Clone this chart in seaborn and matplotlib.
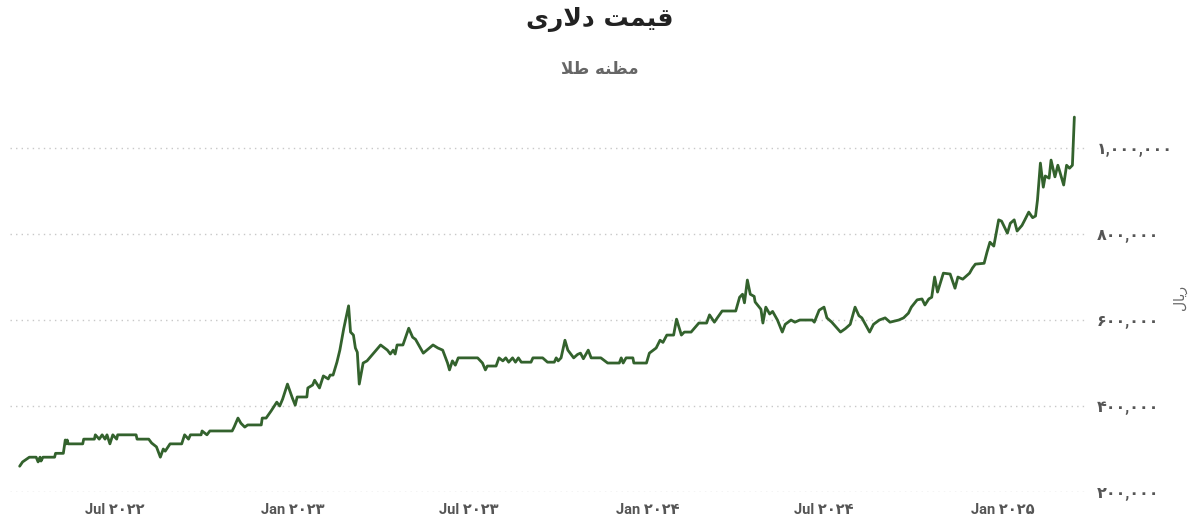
import pandas as pd
import matplotlib
matplotlib.use("Agg")
import matplotlib.pyplot as plt
import matplotlib.dates as mdates
import seaborn as sns

# data (rial)
dates = [
    "2022-03-25", "2022-03-28", "2022-04-04", "2022-04-11", "2022-04-13", "2022-04-15", "2022-04-16", "2022-04-18",
    "2022-04-30", "2022-05-01", "2022-05-09", "2022-05-11", "2022-05-12", "2022-05-13", "2022-05-14", "2022-05-29",
    "2022-05-30", "2022-06-10", "2022-06-11", "2022-06-15", "2022-06-18", "2022-06-21", "2022-06-23", "2022-06-26",
    "2022-06-29", "2022-07-03", "2022-07-04", "2022-07-23", "2022-07-24", "2022-08-05", "2022-08-08", "2022-08-13",
    "2022-08-17", "2022-08-20", "2022-08-22", "2022-08-27", "2022-09-08", "2022-09-11", "2022-09-15", "2022-09-17",
    "2022-09-28", "2022-09-29", "2022-10-04", "2022-10-07", "2022-10-30", "2022-11-01", "2022-11-05", "2022-11-08",
    "2022-11-12", "2022-11-15", "2022-11-29", "2022-11-30", "2022-12-04", "2022-12-09", "2022-12-15", "2022-12-18",
    "2022-12-21", "2022-12-26", "2022-12-31", "2023-01-03", "2023-01-05", "2023-01-15", "2023-01-16", "2023-01-21",
    "2023-01-23", "2023-01-28", "2023-02-01", "2023-02-06", "2023-02-08", "2023-02-11", "2023-02-15", "2023-02-18",
    "2023-02-22", "2023-02-27", "2023-03-01", "2023-03-04", "2023-03-06", "2023-03-08", "2023-03-10", "2023-03-14",
    "2023-03-18", "2023-04-01", "2023-04-08", "2023-04-11", "2023-04-14", "2023-04-16", "2023-04-18", "2023-04-24",
    "2023-04-30", "2023-05-04", "2023-05-07", "2023-05-15", "2023-05-25", "2023-05-30", "2023-06-04", "2023-06-09",
    "2023-06-11", "2023-06-14", "2023-06-17", "2023-06-20", "2023-07-10", "2023-07-15", "2023-07-18", "2023-07-20",
    "2023-07-29", "2023-08-01", "2023-08-05", "2023-08-08", "2023-08-11", "2023-08-15", "2023-08-18", "2023-08-21",
    "2023-08-24", "2023-09-03", "2023-09-05", "2023-09-15", "2023-09-20", "2023-09-27", "2023-09-29", "2023-10-01",
    "2023-10-04", "2023-10-08", "2023-10-11", "2023-10-17", "2023-10-21", "2023-10-24", "2023-10-27", "2023-11-01",
    "2023-11-04", "2023-11-07", "2023-11-14", "2023-11-21", "2023-12-03", "2023-12-05", "2023-12-07", "2023-12-10",
    "2023-12-17", "2023-12-18", "2023-12-31", "2024-01-03", "2024-01-10", "2024-01-14", "2024-01-17", "2024-01-21",
    "2024-01-28", "2024-01-31", "2024-02-05", "2024-02-08", "2024-02-15", "2024-02-18", "2024-02-23", "2024-03-02",
    "2024-03-05", "2024-03-10", "2024-03-13", "2024-03-18", "2024-04-01", "2024-04-05", "2024-04-08", "2024-04-10",
    "2024-04-13", "2024-04-16", "2024-04-20", "2024-04-21", "2024-04-27", "2024-04-29", "2024-05-02", "2024-05-06",
    "2024-05-09", "2024-05-14", "2024-05-19", "2024-05-22", "2024-05-28", "2024-06-01", "2024-06-06", "2024-06-09",
    "2024-06-19", "2024-06-21", "2024-06-26", "2024-07-01", "2024-07-04", "2024-07-09", "2024-07-18", "2024-07-23",
    "2024-07-28", "2024-08-02", "2024-08-06", "2024-08-09", "2024-08-17", "2024-08-21", "2024-08-27", "2024-09-02",
    "2024-09-07", "2024-09-16", "2024-09-21", "2024-09-26", "2024-09-29", "2024-10-05", "2024-10-10", "2024-10-13",
    "2024-10-17", "2024-10-20", "2024-10-23", "2024-10-26", "2024-11-01", "2024-11-08", "2024-11-13", "2024-11-16",
    "2024-11-21", "2024-11-28", "2024-12-01", "2024-12-04", "2024-12-13", "2024-12-16", "2024-12-19", "2024-12-23",
    "2024-12-28", "2024-12-31", "2025-01-06", "2025-01-09", "2025-01-13", "2025-01-16", "2025-01-21", "2025-01-24",
    "2025-01-28", "2025-02-01", "2025-02-04", "2025-02-06", "2025-02-09", "2025-02-12", "2025-02-14", "2025-02-18",
    "2025-02-20", "2025-02-24", "2025-02-27", "2025-03-01", "2025-03-05", "2025-03-08", "2025-03-11", "2025-03-14",
    "2025-03-16",
]
prices = [
    260000, 270000, 281000, 281000, 270000, 281000, 272000, 281000,
    281000, 290000, 290000, 321000, 312000, 321000, 312000, 312000,
    323000, 323000, 333000, 323000, 333000, 323000, 333000, 312000,
    333000, 323000, 333000, 333000, 323000, 323000, 314000, 305000,
    281000, 300000, 295000, 312000, 312000, 333000, 323000, 333000,
    333000, 342000, 333000, 342000, 342000, 351000, 372000, 360000,
    351000, 356000, 356000, 372000, 372000, 388000, 409000, 400000,
    416000, 451000, 419000, 402000, 421000, 421000, 442000, 449000,
    460000, 442000, 470000, 463000, 472000, 472000, 502000, 530000,
    580000, 633000, 572000, 565000, 535000, 525000, 451000, 500000,
    505000, 542000, 530000, 521000, 530000, 521000, 542000, 542000,
    581000, 560000, 555000, 523000, 542000, 535000, 530000, 500000,
    484000, 505000, 495000, 512000, 512000, 500000, 484000, 493000,
    493000, 512000, 505000, 512000, 502000, 512000, 502000, 512000,
    502000, 502000, 512000, 512000, 502000, 502000, 512000, 505000,
    512000, 553000, 530000, 512000, 520000, 523000, 510000, 530000,
    512000, 512000, 512000, 500000, 500000, 512000, 500000, 512000,
    512000, 500000, 500000, 523000, 535000, 553000, 548000, 565000,
    565000, 602000, 565000, 572000, 572000, 580000, 593000, 593000,
    612000, 595000, 605000, 621000, 621000, 653000, 660000, 640000,
    693000, 660000, 655000, 642000, 625000, 593000, 630000, 614000,
    620000, 600000, 572000, 590000, 600000, 595000, 600000, 600000,
    600000, 595000, 623000, 630000, 605000, 595000, 572000, 580000,
    590000, 630000, 610000, 605000, 572000, 590000, 600000, 605000,
    595000, 600000, 605000, 616000, 630000, 647000, 649000, 635000,
    649000, 653000, 700000, 665000, 709000, 707000, 674000, 700000,
    695000, 709000, 721000, 730000, 732000, 758000, 781000, 772000,
    833000, 830000, 802000, 825000, 833000, 807000, 820000, 833000,
    851000, 838000, 842000, 879000, 965000, 909000, 935000, 930000,
    972000, 933000, 960000, 945000, 914000, 960000, 953000, 960000,
    1072000,
]

tick_dates = ["2022-07-01", "2023-01-01", "2023-07-01", "2024-01-01", "2024-07-01", "2025-01-01"]
tick_names = ["Jul 2022", "Jan 2023", "Jul 2023", "Jan 2024", "Jul 2024", "Jan 2025"]
y_ticks = [200000, 400000, 600000, 800000, 1000000]

title = "قیمت دلاری"
subtitle = "مظنه طلا"
unit = "ریال"

FA_DIGITS = str.maketrans("0123456789", "۰۱۲۳۴۵۶۷۸۹")

# simple persian shaping (isolated, final, initial, medial) since matplotlib has no shaping
FORMS = {
    "ا": ("\uFE8D", "\uFE8E", None, None),
    "د": ("\uFEA9", "\uFEAA", None, None),
    "ر": ("\uFEAD", "\uFEAE", None, None),
    "ط": ("\uFEC1", "\uFEC2", "\uFEC3", "\uFEC4"),
    "ظ": ("\uFEC5", "\uFEC6", "\uFEC7", "\uFEC8"),
    "ق": ("\uFED5", "\uFED6", "\uFED7", "\uFED8"),
    "ل": ("\uFEDD", "\uFEDE", "\uFEDF", "\uFEE0"),
    "م": ("\uFEE1", "\uFEE2", "\uFEE3", "\uFEE4"),
    "ن": ("\uFEE5", "\uFEE6", "\uFEE7", "\uFEE8"),
    "ه": ("\uFEE9", "\uFEEA", "\uFEEB", "\uFEEC"),
    "ت": ("\uFE95", "\uFE96", "\uFE97", "\uFE98"),
    "ی": ("\uFEEF", "\uFEF0", "\uFEF3", "\uFEF4"),
}


def shape(text):
    out = []
    i = 0
    n = len(text)
    while i < n:
        c = text[i]
        if c not in FORMS:
            out.append(c)
            i += 1
            continue
        prev = text[i - 1] if i > 0 else None
        joins_prev = prev in FORMS and FORMS[prev][2] is not None
        if c == "ل" and i + 1 < n and text[i + 1] == "ا":
            out.append("\uFEFC" if joins_prev else "\uFEFB")
            i += 2
            continue
        nxt = text[i + 1] if i + 1 < n else None
        joins_next = nxt in FORMS and FORMS[c][2] is not None
        iso, fin, ini, med = FORMS[c]
        if joins_prev and joins_next:
            out.append(med)
        elif joins_prev:
            out.append(fin)
        elif joins_next:
            out.append(ini)
        else:
            out.append(iso)
        i += 1
    return "".join(out)[::-1]


df = pd.DataFrame({"date": pd.to_datetime(dates), "price": prices})

sns.set_theme(style="white")
plt.rcParams["font.family"] = ["Roboto", "DejaVu Sans"]

fig = plt.figure(figsize=(12, 5.26), dpi=100)
ax = fig.add_axes([0.0083, 0.0646, 0.8975, 0.7357])

sns.lineplot(data=df, x="date", y="price", ax=ax, color="#33622d", linewidth=2)

ax.set_xlim(pd.Timestamp("2022-03-15"), pd.Timestamp("2025-03-29"))
ax.set_ylim(200000, 1100000)

ax.set_xticks(mdates.date2num(pd.to_datetime(tick_dates)))
ax.set_xticklabels([t.translate(FA_DIGITS) for t in tick_names])
ax.set_yticks(y_ticks)
ax.set_yticklabels(["{:,}".format(v).translate(FA_DIGITS) for v in y_ticks])
ax.yaxis.tick_right()
ax.tick_params(axis="x", length=0, pad=8, labelsize=10.5, labelcolor="#555555")
ax.tick_params(axis="y", length=0, pad=7, labelsize=11.5, labelcolor="#555555")
for lab in ax.get_xticklabels() + ax.get_yticklabels():
    lab.set_fontweight("bold")

ax.grid(axis="y", linestyle=(0, (1, 3)), color="#c8c8c8", linewidth=1)
ax.grid(axis="x", visible=False)
for s in ax.spines.values():
    s.set_visible(False)

ax.set_xlabel("")
ax.set_ylabel("")
fig.text(0.983, 0.435, shape(unit), rotation=90, ha="center", va="center",
         fontsize=10, color="#666666", family=["DejaVu Sans"])

fig.text(0.5, 0.962, shape(title), ha="center", va="center", fontsize=18,
         fontweight="bold", color="#222222", family=["DejaVu Sans"])
fig.text(0.5, 0.868, shape(subtitle), ha="center", va="center", fontsize=12,
         fontweight="bold", color="#666666", family=["DejaVu Sans"])

fig.savefig("out.png", dpi=100, facecolor="white")
